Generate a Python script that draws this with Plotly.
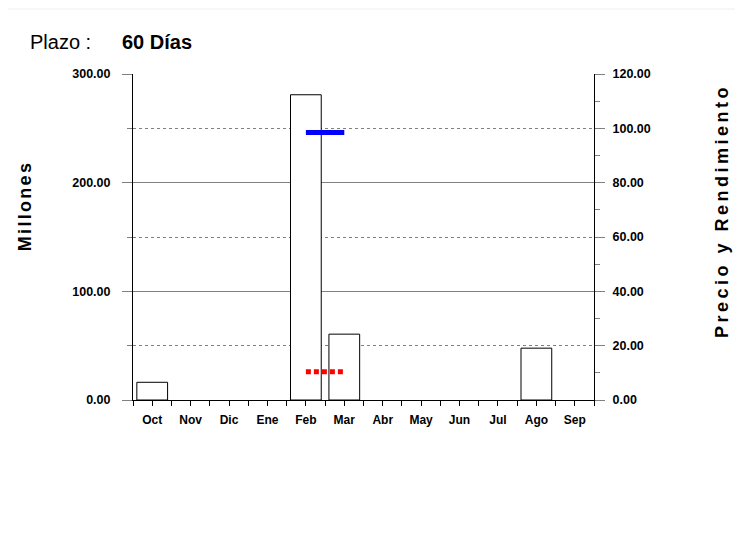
import plotly.graph_objects as go

months = ["Oct", "Nov", "Dic", "Ene", "Feb", "Mar", "Abr", "May", "Jun", "Jul", "Ago", "Sep"]
volumen = [16.3, None, None, None, 280.9, 60.6, None, None, None, None, 47.7, None]
precio_meses = ["Feb", "Mar"]
precio = [98.5, 98.5]
rendimiento_meses = ["Feb", "Mar"]
rendimiento = [10.4, 10.4]

left_ticks = [0, 100, 200, 300]
left_minor = [50, 150, 250]
right_ticks = [0, 20, 40, 60, 80, 100, 120]
right_minor = [10, 30, 50, 70, 90, 110]

FONT = "Arial, Liberation Sans, sans-serif"
OFF = 8  # page body margin
PAGE_W, PAGE_H = 743, 534
W, H = PAGE_W - OFF, PAGE_H - 2 * OFF
# plot area in page pixels
PX0, PX1, PY0, PY1 = 133, 594, 74, 400
L, R, T, B = PX0 - OFF, PAGE_W - PX1, PY0 - OFF, (OFF + H) - PY1
pw, ph = PX1 - PX0, PY1 - PY0

def px(x):
    return (x - PX0) / pw

def py(y):
    return (PY1 - y) / ph

xi = list(range(len(months)))

fig = go.Figure()
fig.add_trace(go.Bar(
    x=xi, y=volumen, width=0.8,
    marker=dict(color="white", line=dict(color="#000000", width=1)),
    hoverinfo="skip", showlegend=False,
))
fig.add_trace(go.Scatter(
    x=[months.index(m) for m in precio_meses], y=precio, yaxis="y2", mode="lines",
    line=dict(color="#0000ff", width=5), hoverinfo="skip", showlegend=False,
))
fig.add_trace(go.Scatter(
    x=[months.index(m) for m in rendimiento_meses], y=rendimiento, yaxis="y2", mode="lines",
    line=dict(color="#ff0000", width=5, dash="5px,3px"), hoverinfo="skip", showlegend=False,
))

xtickfont = dict(family=FONT, size=12, color="black", weight="bold")
ytickfont = dict(family=FONT, size=12.5, color="black", weight="bold")

fig.update_layout(
    width=W, height=H,
    margin=dict(l=L, r=R, t=T, b=B, pad=0),
    paper_bgcolor="white", plot_bgcolor="white",
    xaxis=dict(
        range=[-0.5, len(months) - 0.5],
        tickmode="array", tickvals=xi, ticktext=months,
        ticks="outside", ticklen=5, tickcolor="black", tickwidth=1,
        ticklabelstandoff=4,
        minor=dict(tickmode="array", tickvals=[i - 0.5 for i in range(len(months) + 1)],
                   ticks="outside", ticklen=5, tickcolor="black", tickwidth=1, showgrid=False),
        showgrid=False, zeroline=False,
        showline=True, linecolor="black", linewidth=1,
        tickfont=xtickfont, fixedrange=True,
    ),
    yaxis=dict(
        range=[0, 300], tickmode="array", tickvals=left_ticks,
        tickformat=".2f",
        ticks="outside", ticklen=10, tickcolor="#808080", tickwidth=1,
        ticklabelstandoff=9,
        minor=dict(tickmode="array", tickvals=left_minor, ticks="outside", ticklen=5,
                   tickcolor="#808080", tickwidth=1, showgrid=True,
                   gridcolor="#808080", griddash="dot", gridwidth=1),
        showgrid=True, gridcolor="#808080", gridwidth=1,
        zeroline=False, showline=True, linecolor="black", linewidth=1,
        tickfont=ytickfont, fixedrange=True,
    ),
    yaxis2=dict(
        overlaying="y", side="right",
        range=[0, 120], tickmode="array", tickvals=right_ticks,
        tickformat=".2f",
        ticks="outside", ticklen=10, tickcolor="#808080", tickwidth=1,
        ticklabelstandoff=5,
        minor=dict(tickmode="array", tickvals=right_minor, ticks="outside", ticklen=5,
                   tickcolor="#808080", tickwidth=1, showgrid=False),
        showgrid=False, zeroline=False, showline=True, linecolor="black", linewidth=1,
        tickfont=ytickfont, fixedrange=True,
    ),
    annotations=[
        dict(text="Plazo :", xref="paper", yref="paper", x=px(28), y=py(42),
             xanchor="left", yanchor="middle", showarrow=False,
             font=dict(family=FONT, size=20, color="black")),
        dict(text="60 Días", xref="paper", yref="paper", x=px(120), y=py(42),
             xanchor="left", yanchor="middle", showarrow=False,
             font=dict(family=FONT, size=20, color="black", weight="bold")),
        dict(text="Millones", xref="paper", yref="paper", x=px(25), y=py(206),
             xanchor="center", yanchor="middle", showarrow=False, textangle=-90,
             font=dict(family=FONT, size=18, color="black", weight="bold")),
        dict(text="Precio y Rendimiento", xref="paper", yref="paper", x=px(722), y=py(211),
             xanchor="center", yanchor="middle", showarrow=False, textangle=-90,
             font=dict(family=FONT, size=18, color="black", weight="bold")),
    ],
    shapes=[
        dict(type="line", xref="paper", yref="paper", x0=px(OFF), x1=px(760), y0=py(9), y1=py(9),
             line=dict(color="#eeeeee", width=1)),
    ],
)

post = (
    "document.querySelectorAll('.annotation-text').forEach(function(t){"
    "var s=t.getAttribute('data-unformatted');"
    "if(s==='Millones'){t.style.letterSpacing='2.3px';}"
    "if(s==='Precio y Rendimiento'){t.style.letterSpacing='3.5px';}"
    "});"
)

fig.write_html("out.html", config={"displayModeBar": False}, post_script=post)
